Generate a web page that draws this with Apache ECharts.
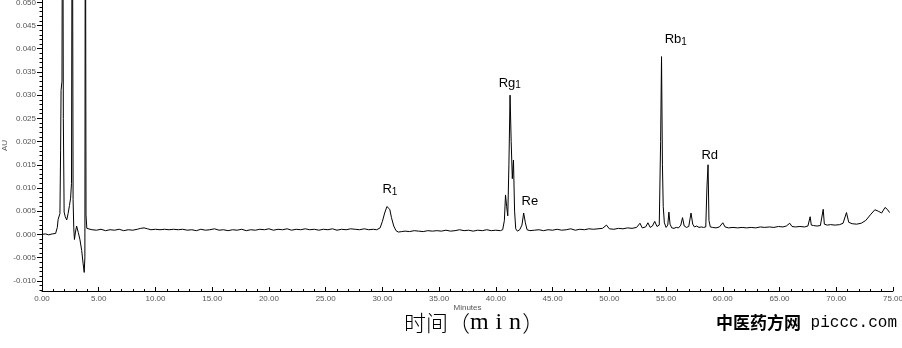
<!DOCTYPE html>
<html>
<head>
<meta charset="utf-8">
<script src="https://cdn.jsdelivr.net/npm/echarts@6/dist/echarts.min.js"></script>
<style>html,body{margin:0;padding:0;background:#fff;}#c{width:902px;height:348px;}</style>
</head>
<body>
<div id="c"></div>
<script>
// retention time (min)
var times = [
 0, 0.3, 0.6, 0.9, 1.2, 1.35, 1.42, 1.5, 1.58, 1.64, 1.68, 1.76, 1.82, 1.88, 1.95, 2.05, 2.18, 2.3, 2.42, 2.52, 2.6, 2.67, 2.74, 2.8, 2.86, 2.95, 3.05, 3.12, 3.2, 3.35, 3.5, 3.62, 3.72, 3.78, 3.82, 3.88, 3.95, 4.05,
 4.4, 4.8, 5.2, 5.6, 6.0, 6.4, 6.8, 7.2, 7.6, 8.0, 8.4, 8.7, 9.0, 9.3, 9.6, 10.0, 10.4, 10.8, 11.2, 11.6, 12.0, 12.4, 12.8, 13.2, 13.6, 14.0, 14.4, 14.8, 15.2, 15.6, 16.0, 16.4, 16.8, 17.2, 17.6, 18.0, 18.4, 18.8, 19.2, 19.6, 20.0, 20.4, 20.8, 21.2, 21.6, 22.0, 22.4, 22.8, 23.2, 23.6, 24.0, 24.4, 24.8, 25.2, 25.6, 26.0, 26.4, 26.8, 27.2, 27.6, 28.0, 28.4, 28.8, 29.2, 29.5,
 29.8, 30.0, 30.2, 30.4, 30.5, 30.65, 30.8, 31.0, 31.2, 31.4, 31.7, 32.0, 32.4, 32.8, 33.2, 33.6, 34.0, 34.4, 34.8, 35.2, 35.6, 36.0, 36.4, 36.8, 37.2, 37.6, 38.0, 38.4, 38.8, 39.2, 39.6, 40.0, 40.4, 40.6,
 40.75, 40.85, 40.95, 41.05, 41.15, 41.25, 41.35, 41.45, 41.55, 41.65, 41.75, 41.9, 42.1, 42.3, 42.45, 42.6, 42.75, 43.0, 43.4,
 43.8, 44.2, 44.6, 45.0, 45.4, 45.8, 46.2, 46.6, 47.0, 47.4, 47.8, 48.2, 48.6, 49.0, 49.4, 49.75, 50.0, 50.4, 50.8, 51.2, 51.6, 52.0, 52.4, 52.7, 52.9, 53.2, 53.4, 53.6, 53.8, 54.0, 54.2, 54.4,
 54.52, 54.6, 54.68, 54.75, 54.85, 55.0, 55.15, 55.25, 55.35, 55.5, 55.7, 55.9, 56.1, 56.3, 56.45, 56.6, 56.8, 57.0, 57.2, 57.35, 57.5, 57.7, 57.9, 58.1, 58.3, 58.5, 58.6, 58.7, 58.78, 58.9, 59.1, 59.4, 59.7, 60.0, 60.2, 60.5, 60.9, 61.3, 61.7, 62.1, 62.5, 62.9, 63.3, 63.7, 64.1, 64.5, 64.9, 65.3, 65.6, 65.9, 66.1, 66.4, 66.8, 67.2, 67.5, 67.7, 67.8, 68.0, 68.3, 68.6, 68.85, 68.95, 69.2, 69.5, 69.9, 70.3, 70.6, 70.9, 71.1, 71.4, 71.8, 72.2, 72.6, 73.0, 73.4, 73.7, 74.0, 74.3, 74.5, 74.7
];
// absorbance (AU)
var absorbance = [
 0.0, 0.0001, -0.0001, 0.0001, 0.0002, 0.0015, 0.0032, 0.0036, 0.0045, 0.018, 0.031, 0.033, 0.095, 0.025, 0.0048, 0.0038, 0.0031, 0.0045, 0.0062, 0.0078, 0.011, 0.095, 0.0075, 0.0014, -0.0011, 0.0005, 0.0018, 0.0016, 0.0004, -0.0012, -0.0035, -0.0062, -0.0082, -0.005, 0.095, 0.0042, 0.0013, 0.0011,
 0.0010, 0.0009, 0.0011, 0.0008, 0.0010, 0.0009, 0.0011, 0.0008, 0.0010, 0.0009, 0.0011, 0.0013, 0.0014, 0.0012, 0.0010, 0.0011, 0.0010, 0.0011, 0.0010, 0.0011, 0.0010, 0.0011, 0.0009, 0.0010, 0.0008, 0.0011, 0.0009, 0.0010, 0.0012, 0.0009, 0.0010, 0.0008, 0.0010, 0.0009, 0.0011, 0.0008, 0.0010, 0.0009, 0.0011, 0.0010, 0.0012, 0.0009, 0.0011, 0.0010, 0.0012, 0.0009, 0.0011, 0.0010, 0.0012, 0.0010, 0.0011, 0.0009, 0.0011, 0.0010, 0.0012, 0.0009, 0.0011, 0.0010, 0.0012, 0.0011, 0.0010, 0.0012, 0.0010, 0.0011, 0.0010,
 0.0014, 0.0028, 0.0046, 0.0060, 0.0062, 0.0054, 0.0036, 0.0018, 0.0008, 0.0005, 0.0006, 0.0007, 0.0006, 0.0008, 0.0007, 0.0006, 0.0008, 0.0007, 0.0008, 0.0007, 0.0009, 0.0007, 0.0008, 0.0010, 0.0008, 0.0009, 0.0007, 0.0009, 0.0008, 0.0010, 0.0008, 0.0009, 0.0008, 0.0010,
 0.0030, 0.0085, 0.0060, 0.0040, 0.0150, 0.0300, 0.0200, 0.0120, 0.0160, 0.0050, 0.0012, 0.0007, 0.0010, 0.0020, 0.0046, 0.0025, 0.0010, 0.0008, 0.0009,
 0.0010, 0.0008, 0.0010, 0.0009, 0.0011, 0.0009, 0.0010, 0.0012, 0.0009, 0.0011, 0.0010, 0.0012, 0.0011, 0.0012, 0.0013, 0.0020, 0.0012, 0.0011, 0.0013, 0.0012, 0.0014, 0.0013, 0.0015, 0.0024, 0.0014, 0.0016, 0.0025, 0.0015, 0.0018, 0.0028, 0.0017, 0.0020,
 0.0200, 0.0383, 0.0150, 0.0060, 0.0025, 0.0015, 0.0020, 0.0048, 0.0022, 0.0014, 0.0013, 0.0015, 0.0014, 0.0020, 0.0036, 0.0018, 0.0015, 0.0017, 0.0046, 0.0022, 0.0016, 0.0018, 0.0015, 0.0016, 0.0015, 0.0016, 0.0100, 0.0150, 0.0030, 0.0016, 0.0015, 0.0014, 0.0016, 0.0025, 0.0016, 0.0014, 0.0015, 0.0014, 0.0015, 0.0014, 0.0015, 0.0014, 0.0016, 0.0015, 0.0016, 0.0015, 0.0017, 0.0016, 0.0018, 0.0024, 0.0017, 0.0016, 0.0017, 0.0016, 0.0018, 0.0038, 0.0020, 0.0019, 0.0018, 0.0019, 0.0054, 0.0022, 0.0020, 0.0021, 0.0020, 0.0021, 0.0024, 0.0047, 0.0026, 0.0023, 0.0022, 0.0024, 0.0030, 0.0042, 0.0053, 0.0050, 0.0046, 0.0058, 0.0054, 0.0047
];
// y tick labels
var yTicks = [-0.010, -0.005, 0.000, 0.005, 0.010, 0.015, 0.020, 0.025, 0.030, 0.035, 0.040, 0.045, 0.050];
var yMinorTicks = [];
for (var k = -12; k <= 50; k++) yMinorTicks.push(k / 1000);
// peak annotations: name, time, label height
var peakNames = ['R1', 'Rg1', 'Re', 'Rb1', 'Rd'];
var peakTimes = [30.66, 41.23, 43.0, 55.86, 58.85];
var peakLabelY = [0.0096, 0.0326, 0.0072, 0.0419, 0.0171];

var data = times.map(function (t, i) { return [t, absorbance[i]]; });
var richLabel = function (n) {
  if (n === 'R1') return '{m|R}{s|1}';
  if (n === 'Rg1') return '{m|Rg}{s|1}';
  if (n === 'Rb1') return '{m|Rb}{s|1}';
  return '{m|' + n + '}';
};
var marks = peakNames.map(function (n, i) {
  return { coord: [peakTimes[i], peakLabelY[i]], name: n, value: n,
    label: { formatter: richLabel(n) } };
});

var chart = echarts.init(document.getElementById('c'), null, { renderer: 'canvas' });
var axisFont = { fontSize: 8, color: '#555', fontFamily: 'Liberation Sans, Arial, sans-serif' };
chart.setOption({
  backgroundColor: '#fff',
  animation: false,
  grid: { left: 42, right: 9, top: 0, height: 291, containLabel: false, outerBoundsMode: 'none' },
  xAxis: {
    type: 'value', min: 0, max: 75, interval: 5,
    name: 'Minutes', nameLocation: 'middle', nameGap: 13, nameMoveOverlap: false,
    nameTextStyle: axisFont,
    axisLine: { onZero: false, lineStyle: { color: '#000', width: 1 } },
    axisTick: { inside: true, length: 4, lineStyle: { color: '#000' } },
    minorTick: { show: true, splitNumber: 5, length: 2, lineStyle: { color: '#000' } },
    axisLabel: Object.assign({ margin: 4, formatter: function (v) { return v.toFixed(2); } }, axisFont),
    splitLine: { show: false }
  },
  yAxis: [{
    type: 'value', min: -0.0122, max: 0.0505,
    name: 'AU', nameLocation: 'middle', nameGap: 33, nameMoveOverlap: false,
    nameTextStyle: axisFont,
    axisLine: { show: true, lineStyle: { color: '#000', width: 1 } },
    axisTick: { show: true, length: 5, customValues: yTicks, lineStyle: { color: '#000' } },
    axisLabel: Object.assign({ margin: 6, customValues: yTicks, formatter: function (v) { return v.toFixed(3); } }, axisFont),
    splitLine: { show: false }
  }, {
    type: 'value', min: -0.0122, max: 0.0505, position: 'left',
    axisLine: { show: false },
    axisTick: { show: true, length: 2.5, customValues: yMinorTicks, lineStyle: { color: '#000' } },
    axisLabel: { show: false },
    splitLine: { show: false }
  }],
  series: [{
    type: 'line', data: data, showSymbol: false, symbol: 'none', clip: true,
    lineStyle: { color: '#000', width: 1 },
    markPoint: {
      symbol: 'circle', symbolSize: 1, itemStyle: { color: 'rgba(0,0,0,0)' },
      label: {
        show: true, position: 'inside', color: '#000',
        rich: {
          m: { fontSize: 13, fontFamily: 'Liberation Sans, Arial, sans-serif', color: '#000' },
          s: { fontSize: 10, fontFamily: 'Liberation Sans, Arial, sans-serif', color: '#000', padding: [5, 0, 0, 0] }
        }
      },
      data: marks
    }
  }],
  graphic: [
    { type: 'text', left: 404, top: 311,
      style: { text: '{a|时间（}{b|m\u2009\u200Ai\u2009\u200An}{a|\u200A）}',
        rich: {
          a: { fontSize: 22, fill: '#000', fontFamily: 'Noto Sans CJK SC', fontWeight: 300 },
          b: { fontSize: 24, fill: '#000', fontFamily: 'Liberation Serif, serif' }
        } } },
    { type: 'text', left: 716, top: 314,
      style: { text: '{a|中医药方网}{b| piccc.com}',
        rich: {
          a: { fontSize: 17, fontWeight: 'bold', fill: '#000', fontFamily: 'Noto Sans CJK SC' },
          b: { fontSize: 16, fill: '#000', fontFamily: 'Liberation Mono, DejaVu Sans Mono, monospace' }
        } } }
  ]
});
</script>
</body>
</html>
